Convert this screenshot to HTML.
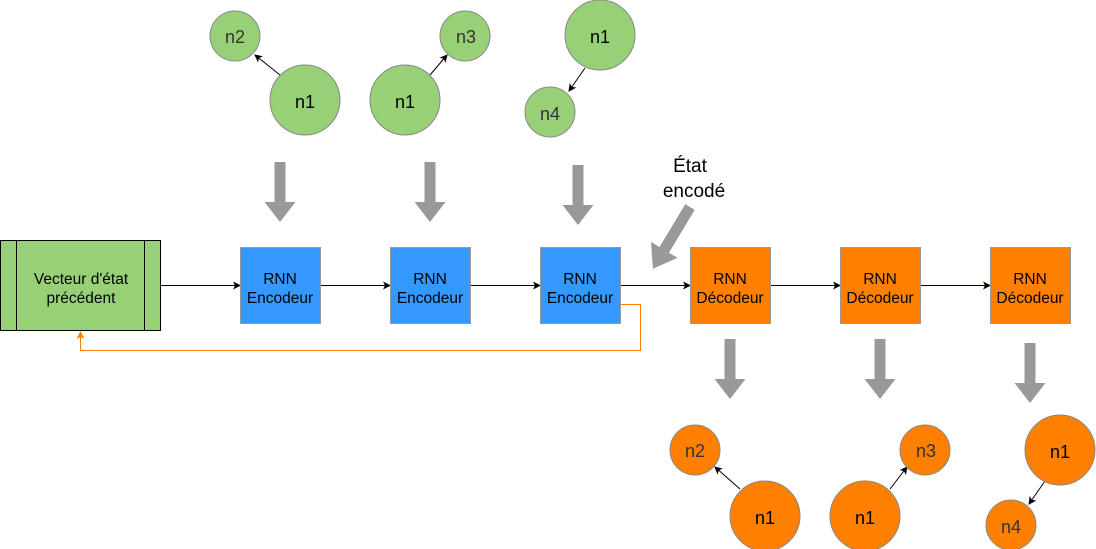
<!DOCTYPE html>
<html><head><meta charset="utf-8"><style>body{margin:0;background:#fff}svg{display:block}text{font-family:"Liberation Sans","DejaVu Sans",sans-serif}</style></head><body>
<svg width="1096" height="549" viewBox="0 0 1096 549" xmlns="http://www.w3.org/2000/svg">
<defs>
<marker id="a" markerWidth="8" markerHeight="8" refX="7" refY="4" orient="auto" markerUnits="userSpaceOnUse"><path d="M0,0 L8,4 L0,8 L2,4z" fill="#000"/></marker>
<marker id="o" markerWidth="8" markerHeight="8" refX="7" refY="4" orient="auto" markerUnits="userSpaceOnUse"><path d="M0,0 L8,4 L0,8 L2,4z" fill="#ff8000"/></marker>
<g id="ga"><path d="M-5.5,0 H5.5 V40 H15.5 L0,60 L-15.5,40 H-5.5z" fill="#999"/></g>
</defs>
<use href="#ga" x="280" y="162"/><use href="#ga" x="430" y="162"/><use href="#ga" x="578" y="165"/>
<use href="#ga" x="730" y="339"/><use href="#ga" x="880" y="339"/><use href="#ga" x="1030" y="343"/>
<g transform="translate(690,207) rotate(31)"><path d="M-5.5,0 H5.5 V50 H15.5 L0,72 L-15.5,50 H-5.5z" fill="#999"/></g>
<text x="690" y="172" style="font-size:19px" text-anchor="middle">État</text>
<text x="694" y="197" style="font-size:19px" text-anchor="middle">encodé</text>
<rect x="0.5" y="240.5" width="160" height="90" fill="#97d077" stroke="#000"/>
<line x1="16.5" y1="240" x2="16.5" y2="331" stroke="#000"/><line x1="144.5" y1="240" x2="144.5" y2="331" stroke="#000"/>
<g text-anchor="middle" style="font-size:15.5px">
<text x="81" y="284">Vecteur d'état</text>
<text x="81" y="303">précédent</text>
</g>
<g stroke="#000" marker-end="url(#a)">
<line x1="161" y1="285.5" x2="240" y2="285.5"/><line x1="320" y1="285.5" x2="390" y2="285.5"/><line x1="470" y1="285.5" x2="540" y2="285.5"/><line x1="620" y1="285.5" x2="690" y2="285.5"/><line x1="770" y1="285.5" x2="840" y2="285.5"/><line x1="920" y1="285.5" x2="990" y2="285.5"/>
</g>
<path d="M620,304.5 H640.5 V350.5 H80.5 V332" fill="none" stroke="#ff8000" marker-end="url(#o)"/>
<g stroke="#999">
<rect x="240.5" y="247.5" width="80" height="76" fill="#3399ff"/><rect x="390.5" y="247.5" width="80" height="76" fill="#3399ff"/><rect x="540.5" y="247.5" width="80" height="76" fill="#3399ff"/>
<rect x="690.5" y="247.5" width="80" height="76" fill="#ff8000"/><rect x="840.5" y="247.5" width="80" height="76" fill="#ff8000"/><rect x="990.5" y="247.5" width="80" height="76" fill="#ff8000"/>
</g>
<g text-anchor="middle" fill="#000" style="font-size:15.5px">
<text x="280" y="284">RNN</text><text x="280" y="303">Encodeur</text>
<text x="430" y="284">RNN</text><text x="430" y="303">Encodeur</text>
<text x="580" y="284">RNN</text><text x="580" y="303">Encodeur</text>
<text x="730" y="284">RNN</text><text x="730" y="303">Décodeur</text>
<text x="880" y="284">RNN</text><text x="880" y="303">Décodeur</text>
<text x="1030" y="284">RNN</text><text x="1030" y="303">Décodeur</text>
</g>
<g stroke="#000" marker-end="url(#a)">
<line x1="280" y1="75" x2="255" y2="55"/><line x1="430" y1="75" x2="447" y2="55"/><line x1="585" y1="68" x2="569" y2="91"/>
<line x1="740" y1="489" x2="715" y2="467"/><line x1="890" y1="489" x2="907" y2="467"/><line x1="1045" y1="481" x2="1029" y2="504"/>
</g>
<g fill="#97d077" stroke="#888">
<circle cx="235" cy="36" r="25"/><circle cx="305" cy="100" r="35"/><circle cx="465" cy="36" r="25"/><circle cx="405" cy="100" r="35"/><circle cx="600" cy="35" r="35"/><circle cx="550" cy="112" r="25"/>
</g>
<g fill="#ff8000" stroke="#888">
<circle cx="695" cy="450" r="25"/><circle cx="765" cy="516" r="35"/><circle cx="925" cy="450" r="25"/><circle cx="865" cy="516" r="35"/><circle cx="1060" cy="450" r="35"/><circle cx="1011" cy="525" r="25"/>
</g>
<g text-anchor="middle" style="font-size:18px">
<text x="235" y="43" fill="#333">n2</text><text x="305" y="108">n1</text><text x="466" y="43" fill="#333">n3</text><text x="405" y="108">n1</text><text x="600" y="43">n1</text><text x="550" y="120" fill="#333">n4</text>
<text x="695" y="457" fill="#333">n2</text><text x="765" y="524">n1</text><text x="926" y="457" fill="#333">n3</text><text x="865" y="524">n1</text><text x="1060" y="458">n1</text><text x="1011" y="533" fill="#333">n4</text>
</g>
</svg>
</body></html>
